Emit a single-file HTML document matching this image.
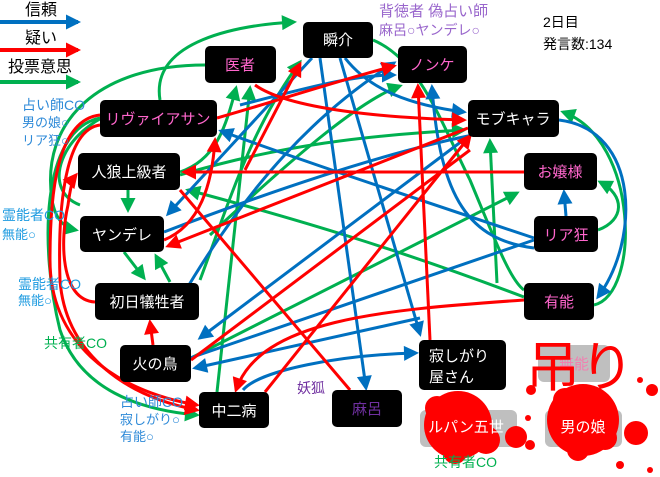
<!DOCTYPE html>
<html><head><meta charset="utf-8"><style>
body{margin:0;background:#fff;}
svg{display:block;font-family:"Liberation Sans","Noto Sans CJK JP",sans-serif;}
</style></head><body>
<svg width="660" height="477" viewBox="0 0 660 477" xmlns="http://www.w3.org/2000/svg">
<defs>
<marker id="b" viewBox="0 0 10 10" refX="8" refY="5" markerWidth="16" markerHeight="15" orient="auto" markerUnits="userSpaceOnUse"><path d="M0,0 L10,5 L0,10 z" fill="#0070c0"/></marker>
<marker id="r" viewBox="0 0 10 10" refX="8" refY="5" markerWidth="16" markerHeight="15" orient="auto" markerUnits="userSpaceOnUse"><path d="M0,0 L10,5 L0,10 z" fill="#ff0000"/></marker>
<marker id="g" viewBox="0 0 10 10" refX="8" refY="5" markerWidth="16" markerHeight="15" orient="auto" markerUnits="userSpaceOnUse"><path d="M0,0 L10,5 L0,10 z" fill="#00b050"/></marker>
</defs>

<!-- legend -->
<g font-size="16" fill="#000">
<text x="25" y="15">信頼</text><text x="25" y="43">疑い</text><text x="8" y="72">投票意思</text>
</g>
<line x1="0" y1="22" x2="78" y2="22" stroke="#0070c0" stroke-width="4" marker-end="url(#b)"/>
<line x1="0" y1="50" x2="78" y2="50" stroke="#ff0000" stroke-width="4" marker-end="url(#r)"/>
<line x1="0" y1="82" x2="78" y2="82" stroke="#00b050" stroke-width="4" marker-end="url(#g)"/>

<g fill="none" stroke-width="3">
<g stroke="#00b050">
<path d="M160,100 C150,40 240,25 294,22" marker-end="url(#g)"/>
<path d="M205,65 C100,65 40,120 52,200 C56,222 66,228 76,230" marker-end="url(#g)"/>
<path d="M128,190 L128,210" marker-end="url(#g)"/>
<path d="M180,172 C215,160 225,130 236,88" marker-end="url(#g)"/>
<path d="M124,252 L144,278" marker-end="url(#g)"/>
<path d="M170,282 L156,256" marker-end="url(#g)"/>
<path d="M217,392 L250,88" marker-end="url(#g)"/>
<path d="M200,280 C230,200 250,130 300,62" marker-end="url(#g)"/>
<path d="M191,358 L517,193" marker-end="url(#g)"/>
<path d="M497,283 L490,141" marker-end="url(#g)"/>
<path d="M524,297 C400,250 300,220 188,190" marker-end="url(#g)"/>
<path d="M598,230 C625,220 625,195 600,182" marker-end="url(#g)"/>
<path d="M100,118 C40,130 40,250 60,330 C80,390 140,410 197,415" marker-end="url(#g)"/>
<path d="M594,305 C640,295 640,140 563,112" marker-end="url(#g)"/>
<path d="M373,40 C420,60 440,120 470,180 C495,240 510,280 524,290"/>
<path d="M80,205 C40,190 60,130 120,110"/>
<path d="M180,175 C280,145 370,135 464,130" marker-end="url(#g)"/>
<path d="M210,235 C290,160 360,100 400,86" marker-end="url(#g)"/>
</g>
<g stroke="#0070c0">
<path d="M312,58 L168,214" marker-end="url(#b)"/>
<path d="M340,58 L420,334" marker-end="url(#b)"/>
<path d="M345,58 C370,90 410,105 464,112" marker-end="url(#b)"/>
<path d="M320,58 L366,388" marker-end="url(#b)"/>
<path d="M534,238 C420,200 300,160 221,131" marker-end="url(#b)"/>
<path d="M180,300 C250,180 320,110 394,63" marker-end="url(#b)"/>
<path d="M240,105 C300,90 350,75 394,75" marker-end="url(#b)"/>
<path d="M420,318 L195,368" marker-end="url(#b)"/>
<path d="M470,135 L200,338" marker-end="url(#b)"/>
<path d="M243,390 C260,370 340,355 416,353" marker-end="url(#b)"/>
<path d="M566,216 L564,192" marker-end="url(#b)"/>
<path d="M559,120 C640,130 640,240 598,297" marker-end="url(#b)"/>
<path d="M534,248 C470,240 440,200 432,87" marker-end="url(#b)"/>
<path d="M164,232 C300,180 400,150 468,136"/>
<path d="M190,358 L534,240"/>
</g>
<g stroke="#ff0000">
<path d="M255,85 C290,110 390,118 464,120" marker-end="url(#r)"/>
<path d="M217,118 C280,100 340,80 394,66" marker-end="url(#r)"/>
<path d="M430,340 L418,86" marker-end="url(#r)"/>
<path d="M524,172 L184,172" marker-end="url(#r)"/>
<path d="M164,240 C200,225 212,185 215,140" marker-end="url(#r)"/>
<path d="M468,128 L168,246" marker-end="url(#r)"/>
<path d="M265,392 L470,136" marker-end="url(#r)"/>
<path d="M524,300 C380,310 260,320 236,390" marker-end="url(#r)"/>
<path d="M153,345 L150,322" marker-end="url(#r)"/>
<path d="M100,115 C55,120 50,200 50,260 C50,340 110,390 197,405" marker-end="url(#r)"/>
<path d="M100,125 C62,130 58,220 60,280 C65,350 120,395 197,410" marker-end="url(#r)"/>
<path d="M95,302 C60,300 60,240 68,205 C70,190 72,180 76,175" marker-end="url(#r)"/>
<path d="M180,190 L350,390"/>
<path d="M245,170 L300,64" marker-end="url(#r)"/>
<path d="M191,360 L470,150"/>
</g>
</g>

<g font-size="14">
<text x="22" y="110" fill="#2e8ad8">占い師CO</text>
<text x="22" y="127" fill="#2e8ad8" font-size="13">男の娘○</text>
<text x="22" y="145" fill="#2e8ad8" font-size="13">リア狂○</text>
<text x="2" y="220" fill="#1e9be0">霊能者CO</text>
<text x="2" y="239" fill="#1e9be0" font-size="13">無能○</text>
<text x="18" y="289" fill="#1e9be0">霊能者CO</text>
<text x="18" y="305" fill="#1e9be0" font-size="13">無能○</text>
<text x="44" y="348" fill="#00b050">共有者CO</text>
<text x="120" y="407" fill="#2e8ad8">占い師CO</text>
<text x="120" y="424" fill="#2e8ad8" font-size="13">寂しがり○</text>
<text x="120" y="441" fill="#2e8ad8" font-size="13">有能○</text>
<text x="297" y="393" fill="#7030a0">妖狐</text>
<text x="379" y="16" fill="#9966cc" font-size="15">背徳者 偽占い師</text>
<text x="379" y="35" fill="#9966cc">麻呂○ヤンデレ○</text>
<text x="543" y="27" fill="#000">2日目</text>
<text x="543" y="49" fill="#000">発言数:134</text>
</g>

<rect x="538" y="345" width="72" height="37" rx="6" fill="#bfbfbf"/>
<text x="574" y="369" font-size="15" fill="#f080b0" text-anchor="middle">無能</text>
<rect x="420" y="410" width="97" height="37" rx="6" fill="#bfbfbf"/>
<rect x="545" y="410" width="77" height="37" rx="6" fill="#bfbfbf"/>

<g fill="#ff0000">
<circle cx="458" cy="425" r="34"/><circle cx="437" cy="408" r="12"/><circle cx="486" cy="440" r="14"/><circle cx="455" cy="452" r="12"/>
<circle cx="516" cy="437" r="11"/><circle cx="530" cy="445" r="5"/><circle cx="528" cy="418" r="3"/>
<circle cx="583" cy="420" r="36"/><circle cx="565" cy="400" r="12"/><circle cx="605" cy="438" r="12"/><circle cx="578" cy="450" r="11"/>
<circle cx="636" cy="433" r="12"/><circle cx="652" cy="390" r="6"/><circle cx="640" cy="380" r="3"/><circle cx="531" cy="390" r="5"/><circle cx="620" cy="465" r="4"/><circle cx="650" cy="470" r="3"/>
</g>
<text x="466" y="432" font-size="15" fill="#fff" text-anchor="middle">ルパン五世</text>
<text x="583" y="432" font-size="15" fill="#fff" text-anchor="middle">男の娘</text>
<text x="434" y="467" font-size="14" fill="#00b050">共有者CO</text>
<text x="526" y="386" font-size="54" fill="#ff0000">吊り</text>

<g font-size="15" text-anchor="middle">
<rect x="303" y="22" width="70" height="36" rx="5"/><text x="338" y="45" fill="#fff">瞬介</text>
<rect x="205" y="46" width="71" height="37" rx="5"/><text x="240" y="70" fill="#ff66cc">医者</text>
<rect x="398" y="46" width="69" height="37" rx="5"/><text x="432" y="70" fill="#ff66cc">ノンケ</text>
<rect x="100" y="100" width="117" height="37" rx="5"/><text x="158" y="124" fill="#ff66cc">リヴァイアサン</text>
<rect x="468" y="100" width="91" height="37" rx="5"/><text x="513" y="124" fill="#fff">モブキャラ</text>
<rect x="78" y="153" width="102" height="37" rx="5"/><text x="129" y="177" fill="#fff">人狼上級者</text>
<rect x="524" y="153" width="73" height="37" rx="5"/><text x="560" y="177" fill="#ff66cc">お嬢様</text>
<rect x="80" y="216" width="84" height="36" rx="5"/><text x="122" y="240" fill="#fff">ヤンデレ</text>
<rect x="534" y="216" width="64" height="36" rx="5"/><text x="566" y="240" fill="#ff66cc">リア狂</text>
<rect x="95" y="283" width="104" height="37" rx="5"/><text x="147" y="307" fill="#fff">初日犠牲者</text>
<rect x="524" y="283" width="70" height="37" rx="5"/><text x="559" y="307" fill="#ff66cc">有能</text>
<rect x="120" y="345" width="71" height="37" rx="5"/><text x="155" y="369" fill="#fff">火の鳥</text>
<rect x="419" y="340" width="87" height="50" rx="5"/><text x="429" y="361" fill="#fff" text-anchor="start">寂しがり</text><text x="429" y="382" fill="#fff" text-anchor="start">屋さん</text>
<rect x="199" y="392" width="70" height="36" rx="5"/><text x="234" y="416" fill="#fff">中二病</text>
<rect x="332" y="390" width="70" height="37" rx="5"/><text x="367" y="414" fill="#7030a0">麻呂</text>
</g>
</svg>
</body></html>
